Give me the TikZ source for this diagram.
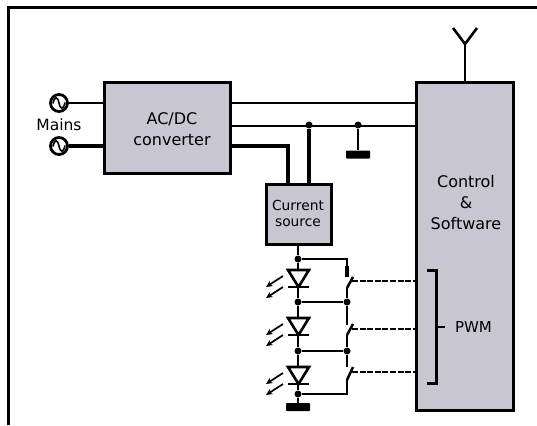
\documentclass[tikz,border=0pt]{standalone}
\usepackage{fontspec}
\setmainfont{DejaVu Sans}
\usetikzlibrary{arrows.meta}
\definecolor{blockgray}{HTML}{C8C6D0}
\tikzset{
  block/.style={draw=black,line width=3pt,fill=blockgray,align=center,inner sep=0pt,outer sep=0pt},
  wire/.style={line width=2.5pt},
  heavywire/.style={line width=3.1pt},
  ctrlwire/.style={line width=2.8pt,dash pattern=on 6pt off 1.6pt},
  joint/.style={circle,fill=black,inner sep=0pt,minimum size=7pt},
  earth/.style={fill=black,rounded corners=0.8pt,inner sep=0pt,minimum width=24pt,minimum height=8pt},
  source/.style={circle,draw=black,line width=2.8pt,fill=white,inner sep=0pt,minimum size=17pt},
  lbl/.style={font=\fontsize{16}{21}\selectfont,align=center},
}
\begin{document}
\begin{tikzpicture}[x=1pt,y=-1pt,>={Stealth[length=6.5pt,width=6pt]}]
  \useasboundingbox (0,0) rectangle (537,425);
  % frame
  \draw[line width=3pt] (8,425) -- (8,8) -- (537,8);
  % blocks
  \node[block,minimum width=126pt,minimum height=90pt] (conv) at (167,128) {};
  \node[block,minimum width=97pt,minimum height=327pt] (ctrl) at (464.5,246.5) {};
  \node[block,minimum width=65pt,minimum height=60pt] (csrc) at (298.5,214) {};
  \node[lbl] (convlabel) at (172,129) {AC/DC\\converter};
  \node[lbl] (ctrllabel) at (466,203) {Control\\\&\\Software};
  \node[lbl,font=\fontsize{13.8}{16}\selectfont] (csrclabel) at (298,213) {Current\\source};
  \node[lbl,font=\fontsize{15.5}{18}\selectfont] (mainslabel) at (59,125) {Mains};
  \node[lbl,font=\fontsize{15}{18}\selectfont] (pwmlabel) at (473.5,327) {PWM};
  % mains
  \foreach \name/\y/\w in {mainsa/103/wire,mainsb/146/heavywire}
  {
    \node[source] (\name) at (59,\y) {};
    \begin{scope}[shift={(\name.center)}]
      \draw[line width=1.6pt] (-6,0.5) .. controls (-4.5,-7) and (-1.5,-7) .. (0,0) .. controls (1.5,7) and (4.5,7) .. (6,-0.5);
    \end{scope}
    \draw[\w] (\name) -- (\name -| conv.west);
  }
  % supply rails
  \coordinate (raila) at (ctrl.west |- 0,103);
  \coordinate (railb) at (ctrl.west |- 0,126);
  \coordinate (railc) at (288,146);
  \node[joint] (tapa) at (309,125) {};
  \node[joint] (tapb) at (358,125) {};
  \node[earth] (earthtop) at (358,154.5) {};
  \draw[wire] (conv.east |- raila) -- (raila);
  \draw[wire] (conv.east |- railb) -- (railb);
  \draw[heavywire] (conv.east |- railc) -- (railc) -- (railc |- csrc.north);
  \draw[heavywire] (tapa) -- (tapa |- csrc.north);
  \draw[wire] (tapb) -- (earthtop);
  % antenna
  \coordinate (anttop) at (465,44);
  \draw[wire] (ctrl.north -| anttop) -- (anttop);
  \draw[line width=2.6pt] (453,28) -- (anttop) -- (477,28);
  % led chain
  \node[joint] (ledtop) at (298,259) {};
  \node[joint] (leda) at (298,302) {};
  \node[joint] (ledb) at (298,351) {};
  \node[joint] (ledc) at (298,394) {};
  \node[earth] (earthled) at (298,407) {};
  \node[joint] (swa) at (347,302) {};
  \node[joint] (swb) at (347,351) {};
  \draw[wire] (csrc.south -| ledtop) -- (ledtop) -- (leda) -- (ledb) -- (ledc) -- (earthled);
  \draw[wire] (leda) -- (swa);
  \draw[wire] (ledb) -- (swb);
  % diodes
  \foreach \y in {270,318,367}
  {
    \draw[line width=2.6pt,fill=white,line join=miter] (288,\y) -- (309,\y) -- (298.5,\y+17) -- cycle;
    \draw[line width=2.4pt] (288,\y+17) -- (309,\y+17);
    \draw[->,line width=1.7pt] (283,\y+6) -- (266,\y+17);
    \draw[->,line width=1.7pt] (283,\y+17) -- (266,\y+28);
  }
  % switches
  \coordinate (cona) at (347,277);
  \coordinate (conb) at (347,325);
  \coordinate (conc) at (347,367);
  \draw[wire] (ledtop) -| (cona);
  \draw[line width=3.2pt] (347,266) -- (cona);
  \draw[wire] (347,288) -- (swa) -- (conb);
  \draw[wire] (347,335) -- (swb) -- (conc);
  \draw[wire] (347,380) |- (ledc);
  \foreach \ya/\yb in {288/277,335/324,380/367}
    \draw[wire] (347,\ya) -- (353,\yb);
  % pwm lines
  \foreach \y in {281,329,372}
    \draw[ctrlwire] (352,\y) -- (ctrl.west |- 0,\y);
  \coordinate (brktop) at (436,270);
  \coordinate (brkbot) at (436,383);
  \draw[line width=3pt] (427,270) -- (brktop) -- (brkbot) -- (427,383);
  \draw[line width=2.4pt] (436,327) -- (445,327);
\end{tikzpicture}
\end{document}
